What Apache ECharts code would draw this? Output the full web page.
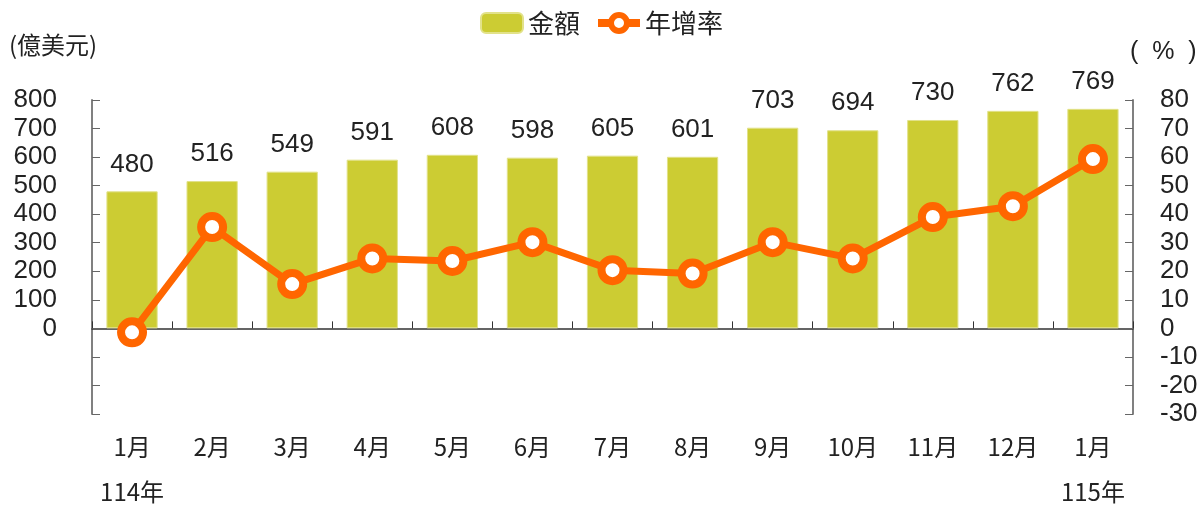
<!DOCTYPE html>
<html>
<head>
<meta charset="utf-8">
<script src="https://cdn.jsdelivr.net/npm/echarts@6/dist/echarts.min.js"></script>
<style>
  html, body { margin: 0; padding: 0; background: #fff; }
  #chart { width: 1203px; height: 507px; }
</style>
</head>
<body>
<div id="chart"></div>
<script>
var months = ['1月', '2月', '3月', '4月', '5月', '6月', '7月', '8月', '9月', '10月', '11月', '12月', '1月']
var years = ['114年', '', '', '', '', '', '', '', '', '', '', '', '115年']
var amount = [480, 516, 549, 591, 608, 598, 605, 601, 703, 694, 730, 762, 769]
var growth = [-1.4, 35.5, 15.5, 24.5, 23.6, 30.2, 20.4, 19.2, 30.2, 24.5, 39.0, 42.8, 59.3]

var numFont = '"Liberation Sans", Arial, sans-serif'
var cjkFont = '"Noto Sans CJK TC", "Noto Sans", sans-serif'

var chart = echarts.init(document.getElementById('chart'))
var option = {
    animation: false,
    legend: {
        top: 5,
        left: 'center',
        itemWidth: 42,
        itemHeight: 20,
        itemGap: 14,
        textStyle: { fontSize: 26, color: '#222', fontFamily: cjkFont },
        data: [
            { name: '金額' },
            {
                name: '年增率',
                lineStyle: { width: 8, color: '#ff6600' },
                itemStyle: { color: '#fff', borderColor: '#ff6600', borderWidth: 6 }
            }
        ]
    },
    grid: { left: 92, right: 70, top: 100, bottom: 93, outerBoundsMode: 'none' },
    graphic: [
        { type: 'text', left: 9, top: 33, style: { text: '(億美元)', fontSize: 24, fill: '#222', fontFamily: cjkFont } },
        { type: 'text', left: 1130, top: 40, style: { text: '(  %  )', fontSize: 25, fill: '#222', fontFamily: numFont } }
    ],
    xAxis: [
        {
            type: 'category',
            data: months,
            position: 'bottom',
            axisLine: { show: false },
            axisTick: { show: false },
            axisLabel: {
                interval: 0,
                margin: 10,
                fontSize: 24,
                lineHeight: 45,
                color: '#222',
                fontFamily: cjkFont,
                formatter: function (v, i) { return v + '\n' + years[i] }
            }
        },
        {
            type: 'category',
            data: months,
            position: 'top',
            axisLine: { onZero: true, lineStyle: { color: '#333', width: 1.5 } },
            axisTick: { show: true, interval: 0, length: 7, lineStyle: { color: '#333' } },
            axisLabel: { show: false }
        }
    ],
    yAxis: [
        {
            type: 'value',
            min: -300,
            max: 800,
            interval: 100,
            splitLine: { show: false },
            axisLine: { show: true, lineStyle: { color: '#808080', width: 2 } },
            axisTick: { show: true, inside: true, length: 8, lineStyle: { color: '#666' } },
            axisLabel: {
                margin: 35,
                fontSize: 26,
                color: '#222',
                fontFamily: numFont,
                formatter: function (v) { return v < 0 ? '' : v }
            }
        },
        {
            type: 'value',
            min: -30,
            max: 80,
            interval: 10,
            position: 'right',
            splitLine: { show: false },
            axisLine: { show: true, lineStyle: { color: '#808080', width: 2 } },
            axisTick: { show: true, inside: true, length: 8, lineStyle: { color: '#666' } },
            axisLabel: {
                margin: 27,
                fontSize: 26,
                color: '#222',
                fontFamily: numFont
            }
        }
    ],
    series: [
        {
            name: '金額',
            type: 'bar',
            xAxisIndex: 0,
            yAxisIndex: 0,
            barWidth: '64%',
            itemStyle: { color: '#cccc33', borderColor: '#e2e28a', borderWidth: 1 },
            label: {
                show: true,
                position: 'top',
                distance: 14,
                fontSize: 26,
                color: '#222',
                fontFamily: numFont
            },
            data: amount
        },
        {
            name: '年增率',
            type: 'line',
            xAxisIndex: 0,
            yAxisIndex: 1,
            symbol: 'circle',
            symbolSize: 22,
            z: 5,
            lineStyle: { color: '#ff6600', width: 7 },
            itemStyle: { color: '#fff', borderColor: '#ff6600', borderWidth: 8 },
            data: growth
        }
    ]
}
chart.setOption(option)
window.addEventListener('resize', function () {
    chart.resize()
})
</script>
</body>
</html>
